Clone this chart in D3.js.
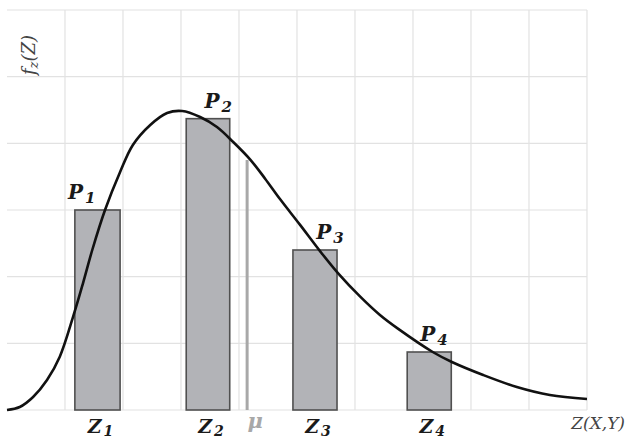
<!DOCTYPE html>
<html>
<head>
<meta charset="utf-8">
<script src="https://cdn.jsdelivr.net/npm/d3@7"></script>
<style>
  body { margin: 0; background: #fff; }
  svg { display: block; }
  .lbl { font-family: "DejaVu Serif", "Liberation Serif", serif; }
</style>
</head>
<body>
<div id="chart"></div>
<script>
"use strict";

// bars (grid units: 10 columns x 6 rows)
var barNames = ["1", "2", "3", "4"];
var barStart = [1.17, 3.09, 4.93, 6.9];
var barEnd = [1.95, 3.84, 5.69, 7.66];
var barHeight = [3.0, 4.37, 2.4, 0.87];
var pLabelX = [1.29, 3.64, 5.57, 7.36];

// mean marker
var muX = 4.14;
var muTop = 3.75;

// density curve
var curveX = [0, 0.22, 0.45, 0.69, 0.91, 1.14, 1.31, 1.47, 1.69, 1.95, 2.17, 2.47, 2.76, 3.02, 3.33, 3.62, 3.90, 4.19, 4.45, 4.71, 5.05, 5.40, 5.71, 6.09, 6.43, 6.74, 7.34, 7.67, 8.21, 8.79, 9.36, 10.0];
var curveY = [0, 0.045, 0.195, 0.45, 0.80, 1.40, 1.90, 2.40, 3.0, 3.57, 3.975, 4.275, 4.455, 4.485, 4.395, 4.245, 4.02, 3.76, 3.47, 3.16, 2.78, 2.38, 2.05, 1.70, 1.425, 1.22, 0.87, 0.72, 0.525, 0.345, 0.225, 0.165];

var xTicks = [1, 2, 3, 4, 5, 6, 7, 8, 9, 10];
var yTicks = [0, 1, 2, 3, 4, 5, 6];

var W = 626, H = 439;
var svg = d3.select("#chart").append("svg").attr("width", W).attr("height", H);

var x = d3.scaleLinear().domain([0, 10]).range([7, 587]);
var y = d3.scaleLinear().domain([0, 6]).range([410, 10]);

// grid
var grid = svg.append("g").attr("stroke", "#e2e2e2").attr("stroke-width", 1.2);
grid.selectAll("line.v").data(xTicks).enter().append("line")
  .attr("x1", function (d) { return x(d); }).attr("x2", function (d) { return x(d); })
  .attr("y1", y(0)).attr("y2", y(6));
grid.selectAll("line.h").data(yTicks).enter().append("line")
  .attr("x1", x(0)).attr("x2", x(10))
  .attr("y1", function (d) { return y(d); }).attr("y2", function (d) { return y(d); });

// bars
var bars = barNames.map(function (n, i) {
  return { name: n, x0: barStart[i], x1: barEnd[i], h: barHeight[i], px: pLabelX[i] };
});

svg.selectAll("rect.bar").data(bars).enter().append("rect")
  .attr("class", "bar")
  .attr("x", function (d) { return x(d.x0); })
  .attr("width", function (d) { return x(d.x1) - x(d.x0); })
  .attr("y", function (d) { return y(d.h); })
  .attr("height", function (d) { return y(0) - y(d.h); })
  .attr("fill", "#b2b3b7")
  .attr("stroke", "#505050")
  .attr("stroke-width", 1.6);

// mean line
svg.append("line")
  .attr("x1", x(muX)).attr("x2", x(muX))
  .attr("y1", y(muTop)).attr("y2", y(0))
  .attr("stroke", "#a8a8a8").attr("stroke-width", 3);

// curve
var pts = curveX.map(function (v, i) { return [v, curveY[i]]; });
var line = d3.line()
  .x(function (d) { return x(d[0]); })
  .y(function (d) { return y(d[1]); })
  .curve(d3.curveCatmullRom.alpha(0.5));
svg.append("path").datum(pts)
  .attr("d", line)
  .attr("fill", "none")
  .attr("stroke", "#111")
  .attr("stroke-width", 2.6);

// labels with subscripts
function subLabel(g, main, sub, size, subSize, dy, color) {
  var t = g.append("text").attr("class", "lbl")
    .attr("font-weight", "bold").attr("font-style", "italic")
    .attr("fill", color);
  t.append("tspan").attr("font-size", size).text(main);
  t.append("tspan").attr("font-size", subSize).attr("dy", dy).attr("dx", 2).text(sub);
  return t;
}

bars.forEach(function (d) {
  subLabel(svg, "P", d.name, 20, 15, 4, "#1a1a1a")
    .attr("x", x(d.px)).attr("y", y(d.h) - 11)
    .attr("text-anchor", "middle");
  subLabel(svg, "Z", d.name, 19, 14, 3, "#1a1a1a")
    .attr("x", (x(d.x0) + x(d.x1)) / 2 + 3).attr("y", 433)
    .attr("text-anchor", "middle");
});

svg.append("text").attr("class", "lbl")
  .attr("x", x(muX) + 8).attr("y", 428)
  .attr("text-anchor", "middle")
  .attr("font-size", 21).attr("font-weight", "bold").attr("font-style", "italic")
  .attr("fill", "#a8a8a8")
  .text("μ");

svg.append("text").attr("class", "lbl")
  .attr("x", 625).attr("y", 429)
  .attr("text-anchor", "end")
  .attr("font-size", 17).attr("font-style", "italic")
  .attr("fill", "#444")
  .text("Z(X,Y)");

// y axis label
var yl = svg.append("text").attr("class", "lbl")
  .attr("transform", "translate(35,55) rotate(-90)")
  .attr("text-anchor", "middle")
  .attr("font-style", "italic")
  .attr("fill", "#444");
yl.append("tspan").attr("font-size", 18).text("f");
yl.append("tspan").attr("font-size", 13).attr("dy", 3).text("z");
yl.append("tspan").attr("font-size", 18).attr("dy", -3).text("(Z)");
</script>
</body>
</html>
